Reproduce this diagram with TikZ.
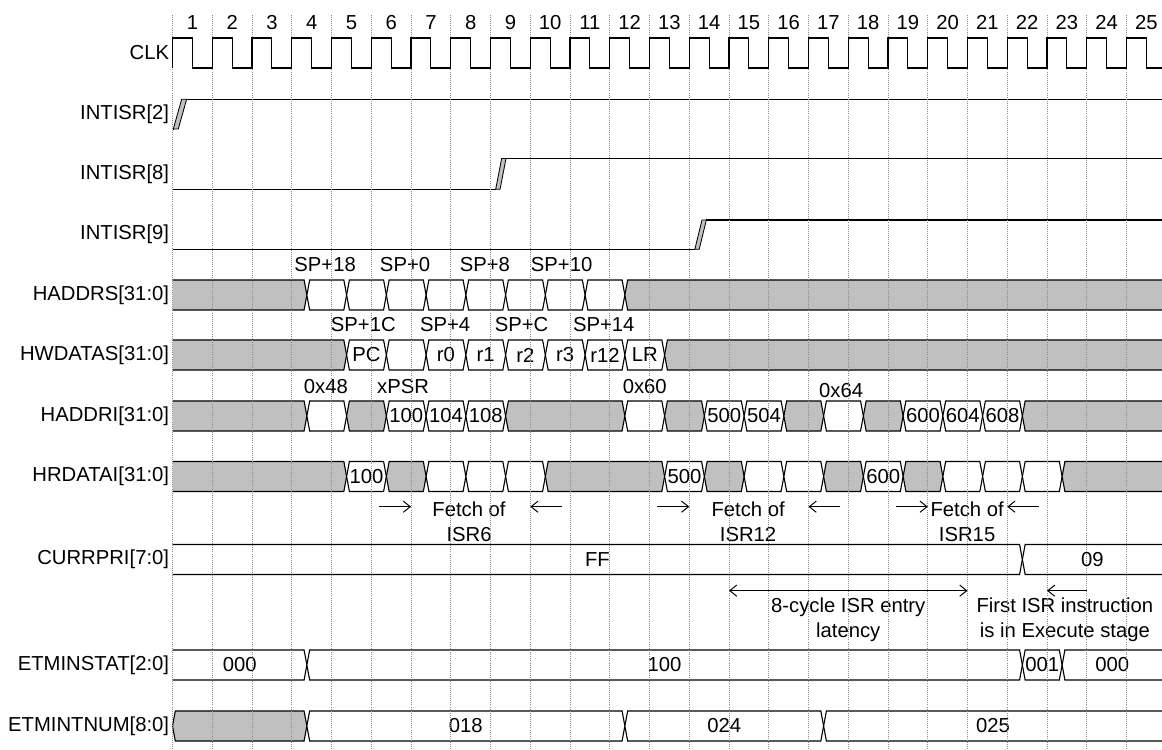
\documentclass[tikz,border=0pt]{standalone}
\usepackage{fontspec}
\setmainfont{Liberation Sans}
\usepackage{tikz}
\usetikzlibrary{arrows.meta}
\definecolor{busCol}{HTML}{C0C0C0}
\definecolor{gridCol}{HTML}{8C8C8C}
\newcommand{\sigfont}{\fontsize{14.5}{18}\selectfont}
\def\busH{0.3775}  % half height of a bus
\def\busX{0.07}    % half width of a bus crossing
\def\xEnd{24.893}  % right border of the picture
\tikzset{
  wire/.style={line width=0.8pt, line join=miter},
  gridl/.style={densely dotted, gridCol, line width=0.5pt},
  sname/.style={anchor=east, font=\sigfont, inner sep=0pt},
  cnum/.style={font=\sigfont, inner sep=0pt},
  bval/.style={font=\sigfont, inner sep=0pt},
  blbl/.style={font=\sigfont, inner sep=0pt},
  note/.style={font=\sigfont, align=center, inner sep=0pt},
  ramp/.style={draw=black, fill=busCol, line width=0.6pt},
  ann/.style={-{Straight Barb[length=5pt,width=8pt]}, line width=0.7pt},
  annb/.style={{Straight Barb[length=5pt,width=8pt]}-{Straight Barb[length=5pt,width=8pt]}, line width=0.7pt},
}
% bus value between two crossings: fill, x from, x to, y centre
\newcommand{\busseg}[4]{%
  \filldraw[wire, fill=#1] (#2,#4) -- ({#2+\busX},{#4+\busH}) -- ({#3-\busX},{#4+\busH})
    -- (#3,#4) -- ({#3-\busX},{#4-\busH}) -- ({#2+\busX},{#4-\busH}) -- cycle;}
% bus value open to the left
\newcommand{\busfirst}[3]{%
  \fill[#1] (0,{#3+\busH}) -- ({#2-\busX},{#3+\busH}) -- (#2,#3) -- ({#2-\busX},{#3-\busH}) -- (0,{#3-\busH}) -- cycle;
  \draw[wire] (0,{#3+\busH}) -- ({#2-\busX},{#3+\busH}) -- (#2,#3) -- ({#2-\busX},{#3-\busH}) -- (0,{#3-\busH});}
% bus value open to the right
\newcommand{\buslast}[3]{%
  \fill[#1] (\xEnd,{#3+\busH}) -- ({#2+\busX},{#3+\busH}) -- (#2,#3) -- ({#2+\busX},{#3-\busH}) -- (\xEnd,{#3-\busH}) -- cycle;
  \draw[wire] (\xEnd,{#3+\busH}) -- ({#2+\busX},{#3+\busH}) -- (#2,#3) -- ({#2+\busX},{#3-\busH}) -- (\xEnd,{#3-\busH});}

\begin{document}
\begin{tikzpicture}
  \useasboundingbox (-4.340,0) rectangle (\xEnd,-18.843);
  % signal names
  \node[sname] (clk)  at (-0.08,-1.333) {CLK};
  \node[sname] (irq2) at (-0.08,-2.870) {INTISR[2]};
  \node[sname] (irq8) at (-0.08,-4.375) {INTISR[8]};
  \node[sname] (irq9) at (-0.08,-5.904) {INTISR[9]};
  \node[sname] (hads) at (-0.08,-7.421) {HADDRS[31:0]};
  \node[sname] (hwds) at (-0.08,-8.931) {HWDATAS[31:0]};
  \node[sname] (hadi) at (-0.08,-10.465) {HADDRI[31:0]};
  \node[sname] (hrdi) at (-0.08,-11.987) {HRDATAI[31:0]};
  \node[sname] (cpri) at (-0.08,-14.075) {CURRPRI[7:0]};
  \node[sname] (etst) at (-0.08,-16.730) {ETMINSTAT[2:0]};
  \node[sname] (etnm) at (-0.08,-18.264) {ETMINTNUM[8:0]};
  \foreach \k in {1,...,25} \node[cnum] (c\k) at (\k-0.5,-0.566) {\k};

  % interrupt requests
  \draw[wire] (0,-3.245) -- (0.02,-3.245);
  \filldraw[ramp] (0.02,-3.245) -- (0.145,-3.245) -- (0.355,-2.498) -- (0.23,-2.498) -- cycle;
  \draw[wire] (0.355,-2.498) -- (\xEnd,-2.498);
  \draw[wire] (0,-4.762) -- (8.13,-4.762);
  \filldraw[ramp] (8.13,-4.762) -- (8.24,-4.762) -- (8.39,-3.987) -- (8.28,-3.987) -- cycle;
  \draw[wire] (8.39,-3.987) -- (\xEnd,-3.987);
  \draw[wire] (0,-6.272) -- (13.14,-6.272);
  \filldraw[ramp] (13.14,-6.272) -- (13.25,-6.272) -- (13.43,-5.535) -- (13.32,-5.535) -- cycle;
  \draw[wire] (13.43,-5.535) -- (\xEnd,-5.535);

  % HADDRS
  \busfirst{busCol}{3.38}{-7.421}
  \foreach \a in {3.38,4.38,5.38,6.38,7.38,8.38,9.38,10.38} \busseg{white}{\a}{\a+1}{-7.421};
  \buslast{busCol}{11.38}{-7.421}
  \node[blbl] (sa18) at (3.84,-6.667) {SP+18};
  \node[blbl] (sa0)  at (5.85,-6.667) {SP+0};
  \node[blbl] (sa8)  at (7.86,-6.667) {SP+8};
  \node[blbl] (sa10) at (9.79,-6.667) {SP+10};
  \node[blbl] (sa1c) at (4.80,-8.176) {SP+1C};
  \node[blbl] (sa4)  at (6.86,-8.176) {SP+4};
  \node[blbl] (sac)  at (8.78,-8.176) {SP+C};
  \node[blbl] (sa14) at (10.85,-8.176) {SP+14};

  % HWDATAS
  \busfirst{busCol}{4.38}{-8.931}
  \busseg{white}{4.38}{5.38}{-8.931}
  \busseg{white}{5.38}{6.38}{-8.931}
  \busseg{white}{6.38}{7.38}{-8.931}
  \busseg{white}{7.38}{8.38}{-8.931}
  \busseg{white}{8.38}{9.38}{-8.931}
  \busseg{white}{9.38}{10.38}{-8.931}
  \busseg{white}{10.38}{11.38}{-8.931}
  \busseg{white}{11.38}{12.38}{-8.931}
  \buslast{busCol}{12.38}{-8.931}
  \node[bval] (wpc)  at (4.88,-8.931) {PC};
  \node[bval] (wr0)  at (6.88,-8.931) {r0};
  \node[bval] (wr1)  at (7.88,-8.931) {r1};
  \node[bval] (wr2)  at (8.88,-8.931) {r2};
  \node[bval] (wr3)  at (9.88,-8.931) {r3};
  \node[bval] (wr12) at (10.88,-8.931) {r12};
  \node[bval] (wlr)  at (11.88,-8.931) {LR};

  % HADDRI
  \busfirst{busCol}{3.38}{-10.465}
  \busseg{white}{3.38}{4.38}{-10.465}
  \busseg{busCol}{4.38}{5.38}{-10.465}
  \busseg{white}{5.38}{6.38}{-10.465}
  \busseg{white}{6.38}{7.38}{-10.465}
  \busseg{white}{7.38}{8.38}{-10.465}
  \busseg{busCol}{8.38}{11.38}{-10.465}
  \busseg{white}{11.38}{12.38}{-10.465}
  \busseg{busCol}{12.38}{13.38}{-10.465}
  \busseg{white}{13.38}{14.38}{-10.465}
  \busseg{white}{14.38}{15.38}{-10.465}
  \busseg{busCol}{15.38}{16.38}{-10.465}
  \busseg{white}{16.38}{17.38}{-10.465}
  \busseg{busCol}{17.38}{18.38}{-10.465}
  \busseg{white}{18.38}{19.38}{-10.465}
  \busseg{white}{19.38}{20.38}{-10.465}
  \busseg{white}{20.38}{21.38}{-10.465}
  \buslast{busCol}{21.38}{-10.465}
  \node[bval] (i100) at (5.88,-10.465) {100};
  \node[bval] (i104) at (6.88,-10.465) {104};
  \node[bval] (i108) at (7.88,-10.465) {108};
  \node[bval] (i500) at (13.88,-10.465) {500};
  \node[bval] (i504) at (14.88,-10.465) {504};
  \node[bval] (i600) at (18.88,-10.465) {600};
  \node[bval] (i604) at (19.88,-10.465) {604};
  \node[bval] (i608) at (20.88,-10.465) {608};
  \node[blbl] (v48)  at (3.86,-9.736) {0x48};
  \node[blbl] (xpsr) at (5.80,-9.736) {xPSR};
  \node[blbl] (v60)  at (11.88,-9.736) {0x60};
  \node[blbl] (v64)  at (16.82,-9.836) {0x64};

  % HRDATAI
  \busfirst{busCol}{4.38}{-11.987}
  \busseg{white}{4.38}{5.38}{-11.987}
  \busseg{busCol}{5.38}{6.38}{-11.987}
  \busseg{white}{6.38}{7.38}{-11.987}
  \busseg{white}{7.38}{8.38}{-11.987}
  \busseg{white}{8.38}{9.38}{-11.987}
  \busseg{busCol}{9.38}{12.38}{-11.987}
  \busseg{white}{12.38}{13.38}{-11.987}
  \busseg{busCol}{13.38}{14.38}{-11.987}
  \busseg{white}{14.38}{15.38}{-11.987}
  \busseg{white}{15.38}{16.38}{-11.987}
  \busseg{busCol}{16.38}{17.38}{-11.987}
  \busseg{white}{17.38}{18.38}{-11.987}
  \busseg{busCol}{18.38}{19.38}{-11.987}
  \busseg{white}{19.38}{20.38}{-11.987}
  \busseg{white}{20.38}{21.38}{-11.987}
  \busseg{white}{21.38}{22.38}{-11.987}
  \buslast{busCol}{22.38}{-11.987}
  \node[bval] (d100) at (4.88,-11.987) {100};
  \node[bval] (d500) at (12.88,-11.987) {500};
  \node[bval] (d600) at (17.88,-11.987) {600};

  % vector fetches
  \node[note] (f6)  at (7.46,-13.12) {Fetch of\\ISR6};
  \node[note] (f12) at (14.48,-13.12) {Fetch of\\ISR12};
  \node[note] (f15) at (19.99,-13.12) {Fetch of\\ISR15};
  \coordinate (f6a) at (5.2,-12.747);   \coordinate (f6b) at (6,-12.747);
  \coordinate (f6c) at (9.8,-12.747);   \coordinate (f6d) at (9,-12.747);
  \coordinate (f12a) at (12.2,-12.747); \coordinate (f12b) at (13,-12.747);
  \coordinate (f12c) at (16.8,-12.747); \coordinate (f12d) at (16,-12.747);
  \coordinate (f15a) at (18.2,-12.747); \coordinate (f15b) at (19,-12.747);
  \coordinate (f15c) at (21.8,-12.747); \coordinate (f15d) at (21,-12.747);
  \draw[ann] (f6a) -- (f6b);   \draw[ann] (f6c) -- (f6d);
  \draw[ann] (f12a) -- (f12b); \draw[ann] (f12c) -- (f12d);
  \draw[ann] (f15a) -- (f15b); \draw[ann] (f15c) -- (f15d);

  % CURRPRI
  \busfirst{white}{21.38}{-14.075}
  \buslast{white}{21.38}{-14.075}
  \node[bval] (pff) at (10.69,-14.075) {FF};
  \node[bval] (p09) at (23.14,-14.075) {09};

  % latency
  \coordinate (lat1) at (14,-14.86); \coordinate (lat2) at (20,-14.86);
  \coordinate (ex1) at (23,-14.86);  \coordinate (ex2) at (22,-14.86);
  \draw[annb] (lat1) -- (lat2);
  \draw[ann] (ex1) -- (ex2);
  \node[note] (latn) at (17,-15.6) {8-cycle ISR entry\\latency};
  \node[note] (exn) at (22.45,-15.6) {First ISR instruction\\is in Execute stage};

  % ETMINSTAT
  \busfirst{white}{3.38}{-16.730}
  \busseg{white}{3.38}{21.38}{-16.730}
  \busseg{white}{21.38}{22.38}{-16.730}
  \buslast{white}{22.38}{-16.730}
  \node[bval] (s000) at (1.69,-16.730) {000};
  \node[bval] (s100) at (12.38,-16.730) {100};
  \node[bval] (s001) at (21.88,-16.730) {001};
  \node[bval] (s000b) at (23.64,-16.730) {000};

  % ETMINTNUM
  \busseg{busCol}{0}{3.38}{-18.264}
  \busseg{white}{3.38}{11.38}{-18.264}
  \busseg{white}{11.38}{16.38}{-18.264}
  \buslast{white}{16.38}{-18.264}
  \node[bval] (n018) at (7.38,-18.264) {018};
  \node[bval] (n024) at (13.88,-18.264) {024};
  \node[bval] (n025) at (20.64,-18.264) {025};

  % clock grid
  \foreach \k in {0,...,24} \draw[gridl] (\k,-0.377) -- (\k,-18.843);
  \draw[wire] (0,-1.711) \foreach \k in {0,...,23} { -- (\k,-0.956) -- ({\k+0.5},-0.956) -- ({\k+0.5},-1.711) -- ({\k+1},-1.711) }
    -- (24,-0.956) -- (24.5,-0.956) -- (24.5,-1.711) -- (\xEnd,-1.711);
\end{tikzpicture}
\end{document}
